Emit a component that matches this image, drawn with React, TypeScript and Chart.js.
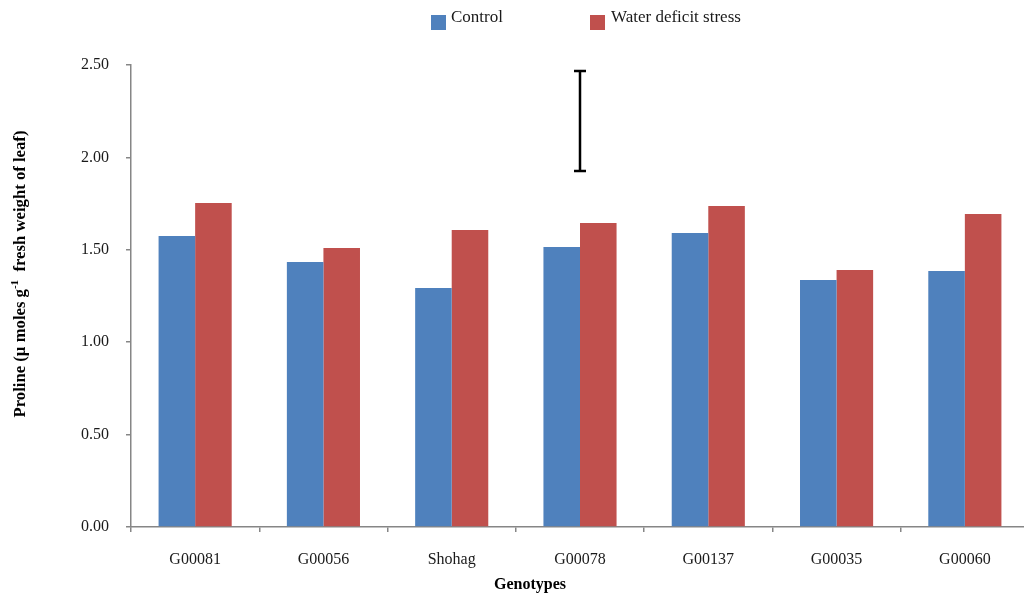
import React, { useEffect, useRef } from "react";
import { Chart, registerables } from "chart.js";

Chart.register(...registerables);

// Genotypes on the x axis
const genotypes = ["G00081", "G00056", "Shohag", "G00078", "G00137", "G00035", "G00060"];

// Proline content (µ moles g-1 fresh weight of leaf)
const controlValues = [1.575, 1.434, 1.293, 1.515, 1.591, 1.337, 1.385];
const stressValues = [1.753, 1.51, 1.607, 1.645, 1.737, 1.391, 1.694];

// Y axis range and tick step
const yMin = 0;
const yMax = 2.5;
const yStep = 0.5;

// LSD bar, drawn over one genotype
const lsdCategory = "G00078";
const lsdLow = 1.926;
const lsdHigh = 2.468;

const seriesNames = ["Control", "Water deficit stress"];
const seriesColors = ["#4F81BD", "#C0504D"];

const SERIF = "'Liberation Serif', 'Times New Roman', serif";
const AXIS_GREY = "#868686";

const decorations = {
  id: "decorations",
  afterDraw(chart: any) {
    const ctx = chart.ctx as CanvasRenderingContext2D;
    const x = chart.scales.x;
    const y = chart.scales.y;
    ctx.save();

    // Legend
    const legendItems = [
      { box: 431, text: 451 },
      { box: 590, text: 611 },
    ];
    ctx.font = `17px ${SERIF}`;
    ctx.textBaseline = "alphabetic";
    ctx.textAlign = "left";
    legendItems.forEach((it, i) => {
      ctx.fillStyle = seriesColors[i];
      ctx.fillRect(it.box, 15, 15, 15);
      ctx.fillStyle = "#1a1a1a";
      ctx.fillText(seriesNames[i], it.text, 22);
    });

    // LSD error bar
    const idx = genotypes.indexOf(lsdCategory);
    const cx = x.getPixelForValue(idx);
    const yTop = y.getPixelForValue(lsdHigh);
    const yBot = y.getPixelForValue(lsdLow);
    ctx.strokeStyle = "#000";
    ctx.lineWidth = 2.5;
    ctx.beginPath();
    ctx.moveTo(cx, yTop);
    ctx.lineTo(cx, yBot);
    ctx.moveTo(cx - 6, yTop);
    ctx.lineTo(cx + 6, yTop);
    ctx.moveTo(cx - 6, yBot);
    ctx.lineTo(cx + 6, yBot);
    ctx.stroke();

    // X axis title
    ctx.fillStyle = "#000";
    ctx.font = `bold 16px ${SERIF}`;
    ctx.textAlign = "center";
    ctx.textBaseline = "middle";
    ctx.fillText("Genotypes", 530, 585);

    // Y axis title with superscript
    const part1 = "Proline (µ moles g";
    const sup = "-1";
    const part2 = "  fresh weight of leaf)";
    const mainFont = `bold 16.7px ${SERIF}`;
    const supFont = `bold 11px ${SERIF}`;
    ctx.font = mainFont;
    const w1 = ctx.measureText(part1).width;
    const w3 = ctx.measureText(part2).width;
    ctx.font = supFont;
    const w2 = ctx.measureText(sup).width;
    const total = w1 + w2 + w3;
    ctx.translate(25, 274);
    ctx.rotate(-Math.PI / 2);
    ctx.textAlign = "left";
    ctx.textBaseline = "alphabetic";
    let px = -total / 2;
    ctx.font = mainFont;
    ctx.fillText(part1, px, 0);
    px += w1;
    ctx.font = supFont;
    ctx.fillText(sup, px, -7);
    px += w2;
    ctx.font = mainFont;
    ctx.fillText(part2, px, 0);

    ctx.restore();
  },
};

export default function App() {
  const canvasRef = useRef<HTMLCanvasElement | null>(null);

  useEffect(() => {
    const canvas = canvasRef.current;
    if (!canvas) return;
    const chart = new Chart(canvas, {
      type: "bar",
      data: {
        labels: genotypes,
        datasets: [
          {
            label: seriesNames[0],
            data: controlValues,
            backgroundColor: seriesColors[0],
            categoryPercentage: 0.57,
            barPercentage: 1,
          },
          {
            label: seriesNames[1],
            data: stressValues,
            backgroundColor: seriesColors[1],
            categoryPercentage: 0.57,
            barPercentage: 1,
          },
        ],
      },
      options: {
        responsive: false,
        animation: false,
        layout: { padding: { left: 0, top: 65, right: 1, bottom: 0 } },
        plugins: {
          legend: { display: false },
          tooltip: { enabled: false },
          title: { display: false },
        },
        scales: {
          x: {
            grid: {
              offset: true,
              drawOnChartArea: false,
              drawTicks: true,
              tickLength: 5,
              color: AXIS_GREY,
              lineWidth: 1.5,
            },
            border: { color: AXIS_GREY, width: 1.5 },
            ticks: {
              font: { family: SERIF, size: 16 },
              color: "#1a1a1a",
              padding: 18,
              maxRotation: 0,
              autoSkip: false,
            },
            afterFit(scale: any) {
              scale.height = 68;
            },
          },
          y: {
            min: yMin,
            max: yMax,
            grid: {
              drawOnChartArea: false,
              drawTicks: true,
              tickLength: 5,
              color: AXIS_GREY,
              lineWidth: 1.5,
            },
            border: { color: AXIS_GREY, width: 1.5 },
            ticks: {
              stepSize: yStep,
              font: { family: SERIF, size: 16 },
              color: "#1a1a1a",
              padding: 17,
              callback: (v: any) => Number(v).toFixed(2),
            },
            afterFit(scale: any) {
              scale.width = 131;
            },
          },
        },
      },
      plugins: [decorations],
    });
    return () => chart.destroy();
  }, []);

  return (
    <div
      style={{
        position: "fixed",
        left: 0,
        top: 0,
        width: 1030,
        height: 595,
        overflow: "hidden",
        background: "#fff",
      }}
    >
      <canvas ref={canvasRef} width={1030} height={595} style={{ display: "block" }} />
    </div>
  );
}
